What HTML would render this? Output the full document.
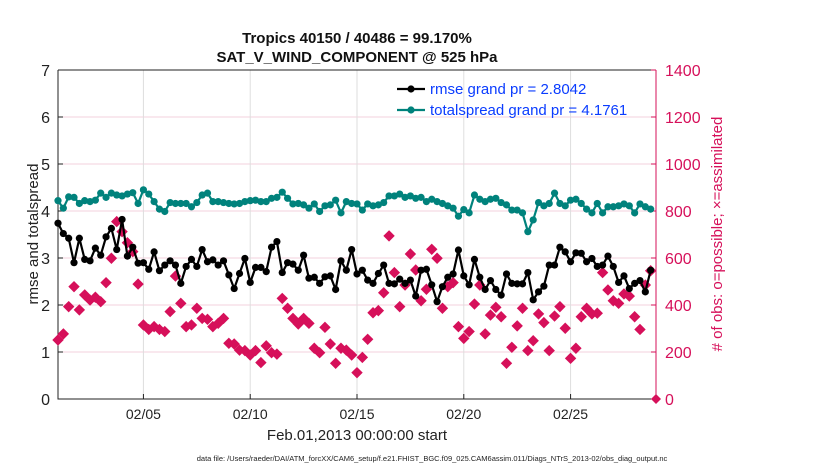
<!DOCTYPE html>
<html><head><meta charset="utf-8"><style>
body{margin:0;background:#fff;}
svg{font-family:"Liberation Sans",Arial,sans-serif;}
</style></head><body>
<svg id="chart" width="830" height="470" xmlns="http://www.w3.org/2000/svg"></svg>
<script>
const rmse=[3.74,3.52,3.42,2.90,3.42,2.97,2.94,3.21,3.06,3.45,3.63,3.18,3.82,3.04,3.23,2.89,2.90,2.76,3.13,2.73,2.85,2.94,2.85,2.46,2.82,2.97,2.82,3.18,2.92,2.96,2.85,2.94,2.64,2.35,2.67,2.99,2.48,2.80,2.80,2.71,
3.23,3.35,2.69,2.90,2.87,2.74,3.06,2.57,2.59,2.46,2.60,2.62,2.33,2.94,2.74,3.18,2.66,2.74,2.53,2.46,2.67,2.85,2.46,2.45,2.55,2.46,2.53,2.19,2.74,2.76,2.43,2.07,2.39,2.59,2.66,3.17,2.62,
2.43,2.97,2.59,2.33,2.52,2.33,2.21,2.66,2.46,2.45,2.45,2.69,2.11,2.28,2.40,2.85,2.85,3.23,3.13,2.92,3.11,3.10,2.92,2.99,2.82,2.85,3.04,2.82,2.48,2.62,2.35,2.46,2.52,2.28,2.74];
const spread=[4.22,4.06,4.30,4.29,4.16,4.22,4.20,4.23,4.38,4.29,4.38,4.34,4.32,4.36,4.39,4.16,4.45,4.36,4.20,4.04,3.99,4.18,4.16,4.16,4.16,4.09,4.18,4.34,4.38,4.20,4.20,4.18,4.16,4.15,4.16,4.20,4.22,4.23,4.20,4.20,
4.27,4.29,4.40,4.27,4.15,4.16,4.13,4.06,4.15,3.99,4.11,4.13,4.23,3.96,4.20,4.16,4.15,4.02,4.15,4.11,4.13,4.18,4.32,4.32,4.36,4.29,4.32,4.27,4.29,4.20,4.25,4.20,4.16,4.11,4.06,3.89,4.03,
3.96,4.34,4.25,4.20,4.25,4.27,4.18,4.13,4.02,4.02,3.96,3.56,3.81,4.18,4.11,4.16,4.38,4.16,4.11,4.23,4.25,4.16,4.04,3.96,4.16,3.96,4.09,4.09,4.11,4.15,4.11,3.96,4.15,4.09,4.04];
const obs=[251,277,393,478,379,443,421,433,414,495,599,755,712,665,627,489,315,296,308,296,287,372,523,407,308,315,386,343,339,308,322,343,237,234,208,206,187,206,155,226,
197,191,428,386,343,319,343,322,216,197,305,234,152,216,208,187,112,177,254,367,376,452,694,538,393,485,617,549,418,467,637,599,386,478,495,308,258,
287,404,485,277,357,390,350,152,220,311,386,206,248,362,325,206,353,393,301,173,216,350,386,362,365,538,464,418,407,447,438,350,296,485,546];
const xTickDays=[4,9,14,19,24];
const xTickLabels=["02/05","02/10","02/15","02/20","02/25"];
const yTicks=[0,1,2,3,4,5,6,7];
const y2Ticks=[0,200,400,600,800,1000,1200,1400];

const NS="http://www.w3.org/2000/svg";
const svg=document.getElementById('chart');
const L=58,R=656,T=70,B=399;
const X=d=>L+d/28*(R-L);
const Y=v=>B-v/7*(B-T);
const Y2=v=>B-v/1400*(B-T);
const MAG="#d6105a";
function mk(t,a,txt){const e=document.createElementNS(NS,t);for(const k in a)e.setAttribute(k,a[k]);if(txt!==undefined)e.textContent=txt;svg.appendChild(e);return e;}

// grid
for(const v of yTicks){if(v>0&&v<7){const e=mk('line',{x1:L,x2:R,y1:Y(v),y2:Y(v),stroke:'#f3d0dc','stroke-width':1});

}}
xTickDays.forEach((d)=>{const e=mk('line',{x1:X(d),x2:X(d),y1:T,y2:B,stroke:'#dedede','stroke-width':1});

});

// axes
let e;
e=mk('path',{d:`M${L},${T}V${B}H${R}`,fill:'none',stroke:'#222','stroke-width':1});


e=mk('line',{x1:R,x2:R,y1:T,y2:B,stroke:MAG,'stroke-width':1});


e=mk('line',{x1:L,x2:R,y1:T,y2:T,stroke:'#222','stroke-width':1});



yTicks.forEach(v=>{
 mk('line',{x1:L,x2:L+5,y1:Y(v),y2:Y(v),stroke:'#222'});
 e=mk('text',{x:L-8,y:Y(v)+6,'text-anchor':'end','font-size':16,fill:'#222'},String(v));
 
 
});
y2Ticks.forEach(v=>{
 mk('line',{x1:R-5,x2:R,y1:Y2(v),y2:Y2(v),stroke:MAG});
 e=mk('text',{x:R+9,y:Y2(v)+6,'font-size':16,fill:MAG},String(v));
 
 
});
xTickDays.forEach((d,i)=>{
 mk('line',{x1:X(d),x2:X(d),y1:B,y2:B-5,stroke:'#222'});
 e=mk('text',{x:X(d),y:B+20,'text-anchor':'middle','font-size':14,fill:'#222'},xTickLabels[i]);
 
 
});

// obs
obs.forEach((v,i)=>{
 const cx=X(i*0.25),cy=Y2(v);
 e=mk('path',{d:`M${cx},${cy-5}L${cx+5},${cy}L${cx},${cy+5}L${cx-5},${cy}Z`,fill:MAG,stroke:MAG,'stroke-width':1});
 
 
});
e=mk('path',{d:`M${X(28)},${Y2(0)-5}l5,5l-5,5l-5,-5Z`,fill:MAG});



function series(arr,color,name){
 const p=arr.map((v,i)=>`${i?'L':'M'}${X(i*0.25).toFixed(1)},${Y(v).toFixed(1)}`).join('');
 let l=mk('path',{d:p,fill:'none',stroke:color,'stroke-width':2.2});
 
 
 arr.forEach((v,i)=>{const c=mk('circle',{cx:X(i*0.25),cy:Y(v),r:3.6,fill:color});
 
 });
}
series(spread,'#00827c','totalspread');
series(rmse,'#000','rmse');

// legend
[['rmse grand pr = 2.8042','#000',89],['totalspread grand pr = 4.1761','#00827c',110]].forEach(([t,c,y],i)=>{
 mk('line',{x1:397,x2:425,y1:y,y2:y,stroke:c,'stroke-width':2.2});
 mk('circle',{cx:411,cy:y,r:3.6,fill:c});
 e=mk('text',{x:430,y:y+5,'font-size':15,fill:'#0a3cff'},t);
 
 
});

// titles
e=mk('text',{x:357,y:43,'text-anchor':'middle','font-size':15,'font-weight':'bold',fill:'#111'},'Tropics 40150 / 40486 = 99.170%');


e=mk('text',{x:357,y:62,'text-anchor':'middle','font-size':15,'font-weight':'bold',fill:'#111'},'SAT_V_WIND_COMPONENT @ 525 hPa');


e=mk('text',{x:357,y:440,'text-anchor':'middle','font-size':15,fill:'#222'},'Feb.01,2013 00:00:00 start');


e=mk('text',{x:0,y:0,'text-anchor':'middle','font-size':15,fill:'#222',transform:`translate(38,234) rotate(-90)`},'rmse and totalspread');


e=mk('text',{x:0,y:0,'text-anchor':'middle','font-size':15,fill:MAG,transform:`translate(722,234) rotate(-90)`},'# of obs: o=possible; ×=assimilated');


e=mk('text',{x:432,y:461,'text-anchor':'middle','font-size':7.5,fill:'#222'},'data file: /Users/raeder/DAI/ATM_forcXX/CAM6_setup/f.e21.FHIST_BGC.f09_025.CAM6assim.011/Diags_NTrS_2013-02/obs_diag_output.nc');


</script>
</body></html>
